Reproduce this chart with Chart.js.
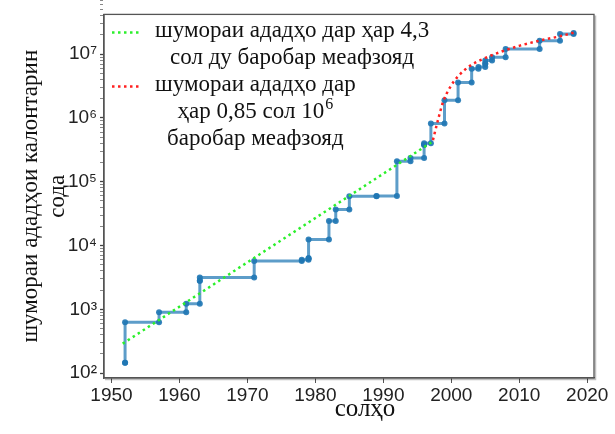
<!DOCTYPE html>
<html>
<head>
<meta charset="utf-8">
<script src="https://cdn.jsdelivr.net/npm/chart.js@4.4.0/dist/chart.umd.min.js"></script>
<style>
  html, body { margin: 0; padding: 0; background: #fff; }
</style>
</head>
<body>
<canvas id="primeChart" width="615" height="434"></canvas>
<script>
// Record years and digit counts of the largest known prime
const recordYears = [1952, 1952, 1957, 1961, 1963, 1963, 1971, 1978, 1979, 1979,
  1982, 1983, 1985, 1989, 1992, 1994, 1996, 1996, 1997, 1999,
  2001, 2003, 2004, 2005, 2005, 2006, 2008, 2013, 2016, 2018];
const recordDigits = [145, 630, 900, 1220, 2810, 3160, 5750, 6000, 6350, 12500,
  24200, 36700, 59300, 60000, 209000, 236000, 379000, 401000, 820000, 1900000,
  3600000, 5900000, 6270000, 7060000, 7980000, 8980000, 12100000, 16300000, 20700000, 21400000];

// Green trend (doubling every 4.3 years), end points
const trendYears = [1951.65, 1997.3];
const trendDigits = [290, 430000];

// Red trend (+10^6 digits every 0.85 years)
const fitYears = [1997.3, 1998.1, 1998.8, 1999.8, 2001.0, 2002.7, 2004.7, 2007.1, 2010.1, 2013.0, 2016.0, 2018.2];
const fitDigits = [450000, 980000, 1790000, 3000000, 4500000, 6500000, 8450000, 10700000, 13600000, 16300000, 19100000, 22000000];

// Axis ticks
const xTicks = [1950, 1960, 1970, 1980, 1990, 2000, 2010, 2020];
const yDecades = [100, 1000, 10000, 100000, 1000000, 10000000];
const yTickLabels = ["10²", "10³", "10⁴", "10⁵", "10⁶", "10⁷"];

const xTitle = "солҳо";
const trendLabel = "шумораи ададҳо дар ҳар 4,3\nсол ду баробар меафзояд";
const fitLabel = "шумораи ададҳо дар\nҳар 0,85 сол 10^6\nбаробар меафзояд";

// Step line: a corner before each new record
const stepPoints = [];
recordYears.forEach((yr, i) => {
  if (i > 0) stepPoints.push({ x: yr, y: recordDigits[i - 1] });
  stepPoints.push({ x: yr, y: recordDigits[i] });
});
const trendPoints = trendYears.map((yr, i) => ({ x: yr, y: trendDigits[i] }));
const fitPoints = fitYears.map((yr, i) => ({ x: yr, y: fitDigits[i] }));

// Log ticks: decades plus 2..9 minor ticks
const yTickValues = [];
yDecades.forEach((d) => {
  for (let m = 1; m <= 9; m++) yTickValues.push(d * m);
});
yTickValues.push(2e7, 3e7, 4e7);

// Frame round the plot area, and the x title (sits right of centre)
const framePlugin = {
  id: "frame",
  afterDraw(chart) {
    const { ctx, chartArea: a } = chart;
    ctx.save();
    ctx.strokeStyle = "#555";
    ctx.lineWidth = 1.3;
    ctx.strokeRect(a.left, a.top, a.right - a.left, a.bottom - a.top);
    ctx.strokeStyle = "rgba(0,0,0,0.25)";
    ctx.lineWidth = 1.5;
    ctx.beginPath();
    ctx.moveTo(a.right + 1.5, a.top + 1);
    ctx.lineTo(a.right + 1.5, a.bottom + 1.5);
    ctx.lineTo(a.left + 1, a.bottom + 1.5);
    ctx.stroke();

    ctx.fillStyle = "#111";
    ctx.font = '25px "Liberation Serif"';
    ctx.textAlign = "center";
    ctx.textBaseline = "alphabetic";
    ctx.fillText(xTitle, (a.left + a.right) / 2 + 16, a.bottom + 38);
    ctx.restore();
  },
};

// Text width, with "^n" drawn as a raised smaller number
const mainFont = '23px "Liberation Serif"';
const supFont = '16px "Liberation Serif"';
function lineWidth(ctx, text) {
  const [base, sup] = text.split("^");
  ctx.font = mainFont;
  let w = ctx.measureText(base).width;
  if (sup) {
    ctx.font = supFont;
    w += ctx.measureText(sup).width + 1;
  }
  return w;
}
function drawLine(ctx, text, cx, y) {
  const [base, sup] = text.split("^");
  const w = lineWidth(ctx, text);
  let x = cx - w / 2;
  ctx.textAlign = "left";
  ctx.font = mainFont;
  ctx.fillText(base, x, y);
  if (sup) {
    x += ctx.measureText(base).width + 1;
    ctx.font = supFont;
    ctx.fillText(sup, x, y - 8);
  }
}

// Legend with multi-line centred labels
const legendPlugin = {
  id: "seriesLegend",
  afterDraw(chart) {
    const { ctx, chartArea: a } = chart;
    ctx.save();
    ctx.textBaseline = "middle";
    const lineH = 27;
    let y = a.top + 17;
    [1, 2].forEach((idx) => {
      const ds = chart.data.datasets[idx];
      ctx.strokeStyle = ds.borderColor;
      ctx.lineWidth = ds.borderWidth;
      ctx.setLineDash(ds.borderDash);
      ctx.beginPath();
      ctx.moveTo(a.left + 8, y + 1);
      ctx.lineTo(a.left + 36, y + 1);
      ctx.stroke();
      ctx.setLineDash([]);
      const lines = ds.label.split("\n");
      const w = Math.max(...lines.map((l) => lineWidth(ctx, l)));
      const cx = a.left + 51 + w / 2;
      ctx.fillStyle = "#111";
      lines.forEach((l, j) => drawLine(ctx, l, cx, y + j * lineH));
      y += lines.length * lineH;
    });
    ctx.restore();
  },
};

const ctx = document.getElementById("primeChart").getContext("2d");
new Chart(ctx, {
  type: "line",
  data: {
    datasets: [
      {
        label: "records",
        data: stepPoints,
        borderColor: "rgba(31, 119, 180, 0.72)",
        backgroundColor: "rgba(31, 119, 180, 0.9)",
        borderWidth: 3,
        pointRadius: 3,
        pointBorderWidth: 0,
        order: 3,
      },
      {
        label: trendLabel,
        data: trendPoints,
        borderColor: "#2bef2b",
        borderWidth: 2.5,
        borderDash: [2.5, 3.5],
        pointRadius: 0,
        order: 2,
      },
      {
        label: fitLabel,
        data: fitPoints,
        borderColor: "#ff2020",
        borderWidth: 2.5,
        borderDash: [2.5, 3.5],
        pointRadius: 0,
        cubicInterpolationMode: "monotone",
        order: 1,
      },
    ],
  },
  options: {
    responsive: false,
    animation: false,
    layout: { padding: { left: 17, right: 21, top: 12, bottom: 0 } },
    plugins: {
      legend: { display: false },
      tooltip: { enabled: false },
    },
    scales: {
      x: {
        type: "linear",
        min: 1948.9,
        max: 2021.0,
        afterBuildTicks: (scale) => {
          scale.ticks = xTicks.map((v) => ({ value: v }));
        },
        afterFit: (scale) => {
          scale.height = 56;
        },
        ticks: {
          color: "#222",
          font: { family: "Liberation Sans", size: 19 },
          padding: 1,
          maxRotation: 0,
          callback: (v) => String(v),
        },
        grid: {
          drawOnChartArea: false,
          tickLength: 5,
          tickColor: "#555",
        },
        border: { color: "#555", width: 1.3 },
        title: { display: false },
      },
      y: {
        type: "logarithmic",
        min: 84,
        max: 4.2e7,
        afterBuildTicks: (scale) => {
          scale.ticks = yTickValues.map((v) => ({ value: v }));
        },
        afterFit: (scale) => {
          scale.width = 87;
        },
        ticks: {
          color: "#222",
          font: { family: "Liberation Sans", size: 19 },
          padding: 3,
          autoSkip: false,
          callback: (v) => {
            const i = yDecades.indexOf(v);
            return i >= 0 ? yTickLabels[i] : "";
          },
        },
        grid: {
          drawOnChartArea: false,
          tickLength: 4,
          tickColor: (c) => (yDecades.includes(c.tick.value) ? "#444" : "#888"),
          tickWidth: (c) => (yDecades.includes(c.tick.value) ? 1.3 : 1),
        },
        border: { color: "#555", width: 1.3 },
        title: {
          display: true,
          text: ["шумораи ададҳои калонтарин", "сода"],
          color: "#111",
          font: { family: "Liberation Serif", size: 23 },
          padding: { top: 0, bottom: 2 },
        },
      },
    },
  },
  plugins: [framePlugin, legendPlugin],
});
</script>
</body>
</html>
